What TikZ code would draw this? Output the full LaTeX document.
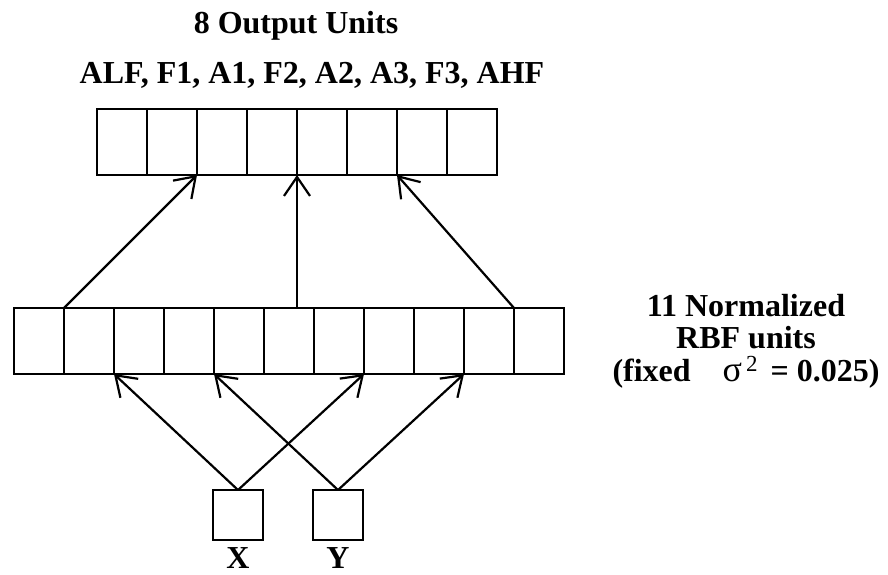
\documentclass[tikz,border=0pt]{standalone}
\usepackage{fontspec}
\setmainfont{Liberation Serif}
\usetikzlibrary{arrows.meta,positioning}
\tikzstyle{rbfcell} = [rectangle, draw, line width=2.2pt, inner sep=0pt, outer sep=0pt,
  minimum width=50pt, minimum height=66pt]
\tikzstyle{outcell} = [rectangle, draw, line width=2.2pt, inner sep=0pt, outer sep=0pt,
  minimum width=50pt, minimum height=66pt]
\tikzstyle{incell} = [rectangle, draw, line width=2.2pt, inner sep=0pt, outer sep=0pt,
  minimum size=50pt]
\tikzstyle{lbl} = [font=\fontsize{32}{32.5}\selectfont\bfseries, inner sep=0pt]
\tikzstyle{line} = [draw, line width=2.2pt, -{Straight Barb[length=19pt,width=26pt,line width=2.2pt]}]

\begin{document}
\begin{tikzpicture}[x=1pt, y=-1pt]
\useasboundingbox (0,0) rectangle (888,574);

% ==========================================
% OUTPUT LAYER (top row)
% ==========================================
\foreach \i in {1,...,8}
  { \node[outcell] (o\i) at ({72+50*\i}, 142) {}; }
\node[lbl, anchor=base] (title) at (296,33) {8 Output Units};
\node[lbl, anchor=base] (outnames) at (312,83) {ALF, F1, A1, F2, A2, A3, F3, AHF};

% ==========================================
% RBF LAYER (middle row)
% ==========================================
\foreach \i in {1,...,11}
  { \node[rbfcell] (h\i) at ({-11+50*\i}, 341) {}; }
\node[lbl, align=center, anchor=north] (rbfnote) at (746,294)
  {11 Normalized\\RBF units\\(fixed\hspace{32pt}{\mdseries\fontsize{36}{32.5}\selectfont σ}\hspace{4pt}\raisebox{10pt}{\mdseries\fontsize{23}{23}\selectfont 2}\hspace{13pt}= 0.025)};

% ==========================================
% INPUT LAYER (bottom)
% ==========================================
\node[incell] (inx) at (238,515) {};
\node[incell] (iny) [right=50pt of inx] {};
\node[lbl, below=7pt of inx] (xlab) {X};
\node[lbl, below=7pt of iny] (ylab) {Y};

% Connections
\draw[line] (h1.north east) -- (o2.south east);
\coordinate (midfoot) at (o4.south east |- h1.north);
\draw[line] (midfoot) -- (o4.south east);
\draw[line] (h10.north east) -- (o6.south east);
\foreach \s/\t in {inx/h2, inx/h7, iny/h4, iny/h9}
  { \draw[line] (\s.north) -- (\t.south east); }

\end{tikzpicture}
\end{document}
